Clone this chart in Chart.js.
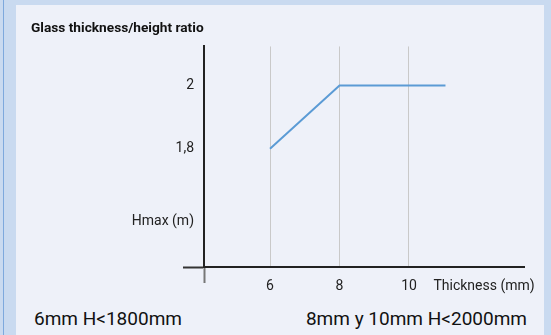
<!DOCTYPE html>
<html lang="en">

<head>
    <meta charset="UTF-8">
    <meta name="viewport" content="width=device-width, initial-scale=1.0">
    <title>Glass thickness/height ratio</title>
    <script src="https://cdn.jsdelivr.net/npm/chart.js@4.4.0/dist/chart.umd.min.js"></script>
    <style>
        body {
            margin: 0;
            width: 551px;
            height: 335px;
            background: #c9daf0;
            position: relative;
            overflow: hidden;
            font-family: Roboto, sans-serif;
        }

        .borda {
            position: absolute;
            left: 3px;
            top: 0;
            width: 1px;
            height: 335px;
            background: #7ea9dd;
        }

        .painel {
            position: absolute;
            left: 16px;
            top: 5px;
            width: 528px;
            height: 330px;
            background: #eef1f9;
        }

        .grafico {
            position: absolute;
            left: 0;
            top: 0;
            width: 551px;
            height: 300px;
        }

        .nota {
            position: absolute;
            top: 307px;
            font-size: 19px;
            color: #111;
            white-space: nowrap;
        }
    </style>
</head>

<body>
    <div class="borda"></div>
    <div class="painel"></div>

    <div class="grafico">
        <canvas id="myChart"></canvas>
    </div>

    <div class="nota" style="left: 34px;">6mm H&lt;1800mm</div>
    <div class="nota" style="right: 24px;">8mm y 10mm H&lt;2000mm</div>

    <script>
        // thickness (mm) and max height (m)
        const espessura = [6, 8, 10, 11.05];
        const alturaMax = [1.8, 2, 2, 2];

        // axis ranges
        const xMin = 4.1, xMax = 13.31;
        const yMin = 1.425, yMax = 2.124;

        // tick values and what is written next to them
        const xTickValues = [6, 8, 10, 12.16];
        const xTickLabels = ['6', '8', '10', 'Thickness (mm)'];
        const yTickValues = [1.57, 1.8, 2];
        const yTickLabels = ['Hmax (m)', '1,8', '2'];
        const xGridValues = [6, 8, 10];

        const pontos = espessura.map((x, i) => ({ x: x, y: alturaMax[i] }));

        function rotulo(valores, rotulos, v) {
            const i = valores.indexOf(v);
            return i >= 0 ? rotulos[i] : '';
        }

        const config = {
            type: 'line',
            data: {
                datasets: [{
                    label: 'Hmax',
                    data: pontos,
                    borderColor: '#5b9bd5',
                    borderWidth: 2,
                    pointRadius: 0,
                    tension: 0,
                    fill: false
                }]
            },
            options: {
                responsive: true,
                maintainAspectRatio: false,
                animation: false,
                layout: {
                    padding: { left: 31, right: 27, top: 0, bottom: 0 }
                },
                plugins: {
                    legend: { display: false },
                    tooltip: { enabled: false },
                    title: {
                        display: true,
                        text: 'Glass thickness/height ratio',
                        align: 'start',
                        color: '#111',
                        font: { family: 'Roboto', size: 13.7, weight: 'bold' },
                        padding: { top: 20, bottom: 10 }
                    }
                },
                scales: {
                    x: {
                        type: 'linear',
                        min: xMin,
                        max: xMax,
                        afterBuildTicks: (s) => {
                            s.ticks = [xMin].concat(xTickValues).map(v => ({ value: v }));
                        },
                        afterFit: (s) => { s.height = 33; },
                        border: { color: '#222', width: 2 },
                        grid: {
                            color: (c) => xGridValues.includes(c.tick && c.tick.value) ? '#c9c9c9' : 'rgba(0,0,0,0)',
                            lineWidth: 1,
                            tickLength: 16,
                            tickWidth: 2,
                            tickColor: (c) => (c.tick && c.tick.value === xMin) ? '#777' : 'rgba(0,0,0,0)'
                        },
                        ticks: {
                            color: '#222',
                            font: { family: 'Roboto', size: 14 },
                            padding: -5,
                            maxRotation: 0,
                            autoSkip: false,
                            callback: (v) => rotulo(xTickValues, xTickLabels, v)
                        }
                    },
                    y: {
                        type: 'linear',
                        min: yMin,
                        max: yMax,
                        afterBuildTicks: (s) => {
                            s.ticks = [yMin].concat(yTickValues).map(v => ({ value: v }));
                        },
                        afterFit: (s) => { s.width = 173; },
                        border: { color: '#222', width: 2 },
                        grid: {
                            drawOnChartArea: false,
                            tickLength: 21,
                            tickWidth: 2,
                            tickColor: (c) => (c.tick && c.tick.value === yMin) ? '#333' : 'rgba(0,0,0,0)'
                        },
                        ticks: {
                            color: '#222',
                            font: { family: 'Roboto', size: 14 },
                            padding: -11,
                            autoSkip: false,
                            callback: (v) => rotulo(yTickValues, yTickLabels, v)
                        }
                    }
                }
            }
        };

        let myChart = new Chart(document.getElementById('myChart'), config);
    </script>
</body>

</html>
